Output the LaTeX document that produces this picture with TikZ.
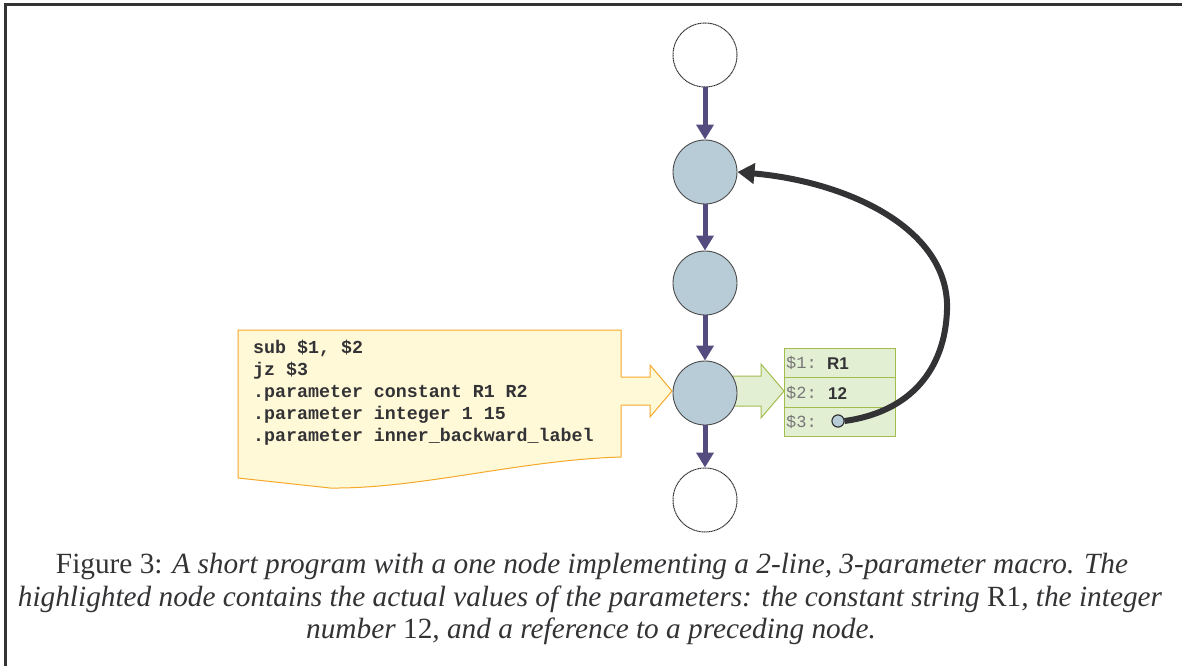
\documentclass[tikz,border=0pt]{standalone}
\usepackage{fontspec}
\setmainfont{Liberation Serif}
\setsansfont{Liberation Sans}
\setmonofont{Liberation Mono}
\usetikzlibrary{arrows.meta}
\definecolor{edgec}{HTML}{544C7E}
\definecolor{nodefill}{HTML}{B8CCD8}
\definecolor{nodeline}{HTML}{4A4A4A}
\definecolor{notefill}{HTML}{FFF9D8}
\definecolor{noteline}{HTML}{F5A82A}
\definecolor{greenfill}{HTML}{E3EFD3}
\definecolor{greenline}{HTML}{A3BC4E}
\definecolor{darkc}{HTML}{333336}
\definecolor{labgray}{HTML}{777777}
\begin{document}
\begin{tikzpicture}[x=1pt,y=-1pt,
  cnode/.style={circle,draw=nodeline,line width=0.9pt,fill=nodefill,minimum size=64pt,inner sep=0pt},
  wnode/.style={circle,draw=darkc,line width=1pt,dash pattern=on 1.2pt off 0.5pt,fill=white,minimum size=64pt,inner sep=0pt},
  edge/.style={draw=edgec,line width=5pt,-{Triangle[width=17pt,length=15pt]}},
  rowbox/.style={rectangle,draw=greenline,line width=1pt,fill=greenfill,minimum width=111pt,minimum height=29.5pt,inner sep=0pt},
  lab/.style={anchor=west,inner sep=0pt,text=labgray,font=\fontsize{17}{17}\selectfont\ttfamily},
  val/.style={anchor=west,inner sep=0pt,text=darkc,font=\fontsize{17}{17}\selectfont\sffamily\bfseries},
  capline/.style={anchor=base,inner sep=0pt,text=darkc,font=\fontsize{29.3}{33}\selectfont}
]
\useasboundingbox (0,0) rectangle (1182,666);
% frame
\draw[darkc,line width=3pt] (5,666) -- (5,5) -- (1182,5);

% yellow note
\draw[noteline,fill=notefill,line width=1pt]
  (238,330) -- (621,330) -- (621,457)
  .. controls (520,460) and (420,489) .. (330,488) -- (238,478) -- cycle;
\node[align=left,anchor=north west,inner sep=0pt,text=darkc,
  font=\fontsize{18.3}{22}\selectfont\ttfamily\bfseries] (code) at (253,340)
  {sub \$1, \$2\\jz \$3\\.parameter constant R1 R2\\.parameter integer 1 15\\.parameter inner\_backward\_label};

% yellow block arrow
\fill[notefill] (619,377) -- (650,377) -- (650,365) -- (672,391) -- (650,417) -- (650,405) -- (619,405) -- cycle;
\draw[noteline,line width=1pt] (621,377) -- (650,377) -- (650,365) -- (672,391) -- (650,417) -- (650,405) -- (621,405);

% green block arrow
\draw[greenline,fill=greenfill,line width=1pt] (720,376) -- (761,376) -- (761,364) -- (784,391) -- (761,418) -- (761,406) -- (720,406) -- cycle;

% circles
\node[wnode] (n1) at (705,55) {};
\node[cnode] (n2) at (705,172) {};
\node[cnode] (n3) at (705,283) {};
\node[cnode] (n4) at (705,393) {};
\node[wnode] (n5) at (705,500) {};

\draw[edge] (n1) -- (n2);
\draw[edge] (n2) -- (n3);
\draw[edge] (n3) -- (n4);
\draw[edge] (n4) -- (n5);

% green table
\node[rowbox] (r1) at (839.5,363) {};
\node[rowbox] (r2) at (839.5,392.5) {};
\node[rowbox] (r3) at (839.5,422) {};
\node[lab] (l1) at (786,363) {\$1:};
\node[lab] (l2) at (786,393) {\$2:};
\node[lab] (l3) at (786,422) {\$3:};
\node[val] (v1) at (827,364) {R1};
\node[val] (v2) at (828,394) {12};

% reference curve
\node[circle,draw=darkc,line width=1pt,fill=nodefill,minimum size=12pt,inner sep=0pt] (dot) at (838,421) {};
\draw[darkc,line width=6pt,-{Triangle[width=20pt,length=17pt]}]
  (dot.east) .. controls (910,412) and (945,370) .. (947,310)
  .. controls (950,230) and (850,182) .. (n2.east);
\node[circle,draw=darkc,line width=1pt,fill=nodefill,minimum size=12pt,inner sep=0pt] at (dot) {};

% caption
\node[capline] (c1) at (592,573) {Figure 3: \textit{A short program with a one node implementing a 2-line, 3-parameter macro. The}};
\node[capline] (c2) at (590,606) {\textit{highlighted node contains the actual values of the parameters: the constant string} R1\textit{, the integer}};
\node[capline] (c3) at (591,638) {\textit{number} 12\textit{, and a reference to a preceding node.}};
\end{tikzpicture}
\end{document}
